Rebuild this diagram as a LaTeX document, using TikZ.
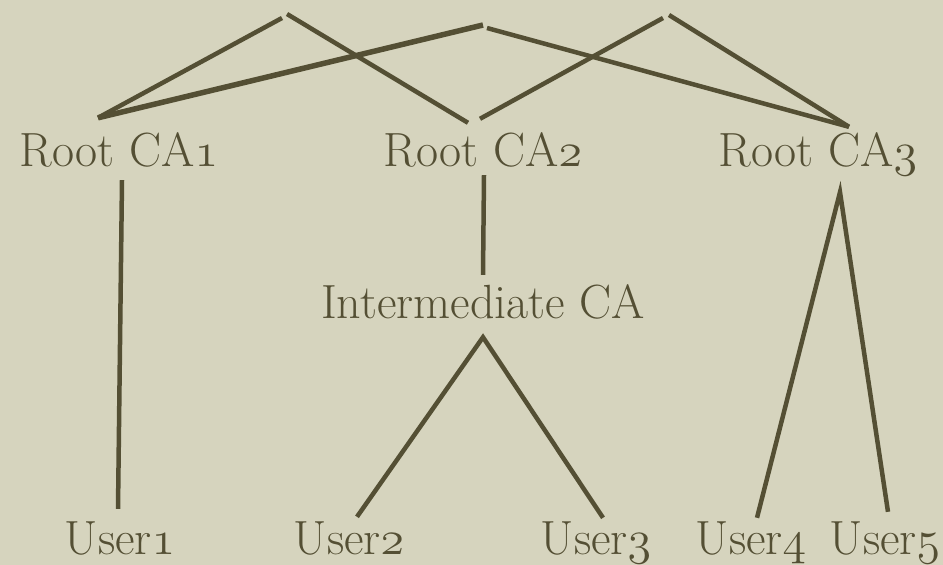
\RequirePackage{fix-cm}
\documentclass[tikz,border=0pt]{standalone}
\usepackage{fontspec}
\usepackage{tikz}

\definecolor{paper}{RGB}{214,212,190}
\definecolor{ink}{RGB}{84,79,52}
\newcommand{\onum}[1]{{\usefont{OML}{cmm}{m}{it}#1}}

\tikzset{
    lbl/.style={text=ink, inner sep=0pt, anchor=base, text height=31pt, text depth=0pt,
        font=\fontsize{48}{56}\selectfont},
    link/.style={draw=ink, line width=4.5pt},
}

\begin{document}
\begin{tikzpicture}[x=1pt, y=-1pt]
        \fill[paper] (0,0) rectangle (943,565);
        \useasboundingbox (0,0) rectangle (943,565);

        \node[lbl] (ca1) at (119, 166) {Root CA\onum{1}};
        \node[lbl] (ca2) at (483, 166) {Root CA\onum{2}};
        \node[lbl] (ca3) at (818, 166) {Root CA\onum{3}};

        \node[lbl] (im) at (483, 318) {Intermediate CA};

        \node[lbl] (u1) at (120, 554) {User\onum{1}};
        \node[lbl] (u2) at (349, 554) {User\onum{2}};
        \node[lbl] (u3) at (596, 554) {User\onum{3}};
        \node[lbl] (u4) at (751, 554) {User\onum{4}};
        \node[lbl] (u5) at (885, 554) {User\onum{5}};

        \coordinate (a1) at (282, 18);
        \coordinate (a2) at (287, 14);
        \coordinate (b1) at (483, 25);
        \coordinate (b2) at (487, 28);
        \coordinate (c1) at (663, 18);
        \coordinate (c2) at (669, 15);

        \draw[link] (a1) -- ([shift={(-21,-17)}]ca1.north);
        \draw[link] (a2) -- ([shift={(-15,-12)}]ca2.north);
        \draw[link, line width=5.5pt] (b1) -- ([shift={(-21,-17)}]ca1.north);
        \draw[link] (b2) -- ([shift={(31,-8)}]ca3.north);
        \draw[link] (c1) -- ([shift={(-3,-16)}]ca2.north);
        \draw[link] (c2) -- ([shift={(31,-8)}]ca3.north);

        \draw[link] ([shift={(3,14)}]ca1.south) -- ([shift={(-2,-14)}]u1.north);
        \draw[link] ([shift={(1,9)}]ca2.south) -- ([shift={(0,-12)}]im.north);
        \draw[link] ([shift={(7,-5)}]u3.north) -- ([shift={(0,19)}]im.south) -- ([shift={(8,-6)}]u2.north);
        \draw[link] ([shift={(6,-5)}]u4.north) -- ([shift={(22,26)}]ca3.south) -- ([shift={(3,-11)}]u5.north);
    \end{tikzpicture}
\end{document}
